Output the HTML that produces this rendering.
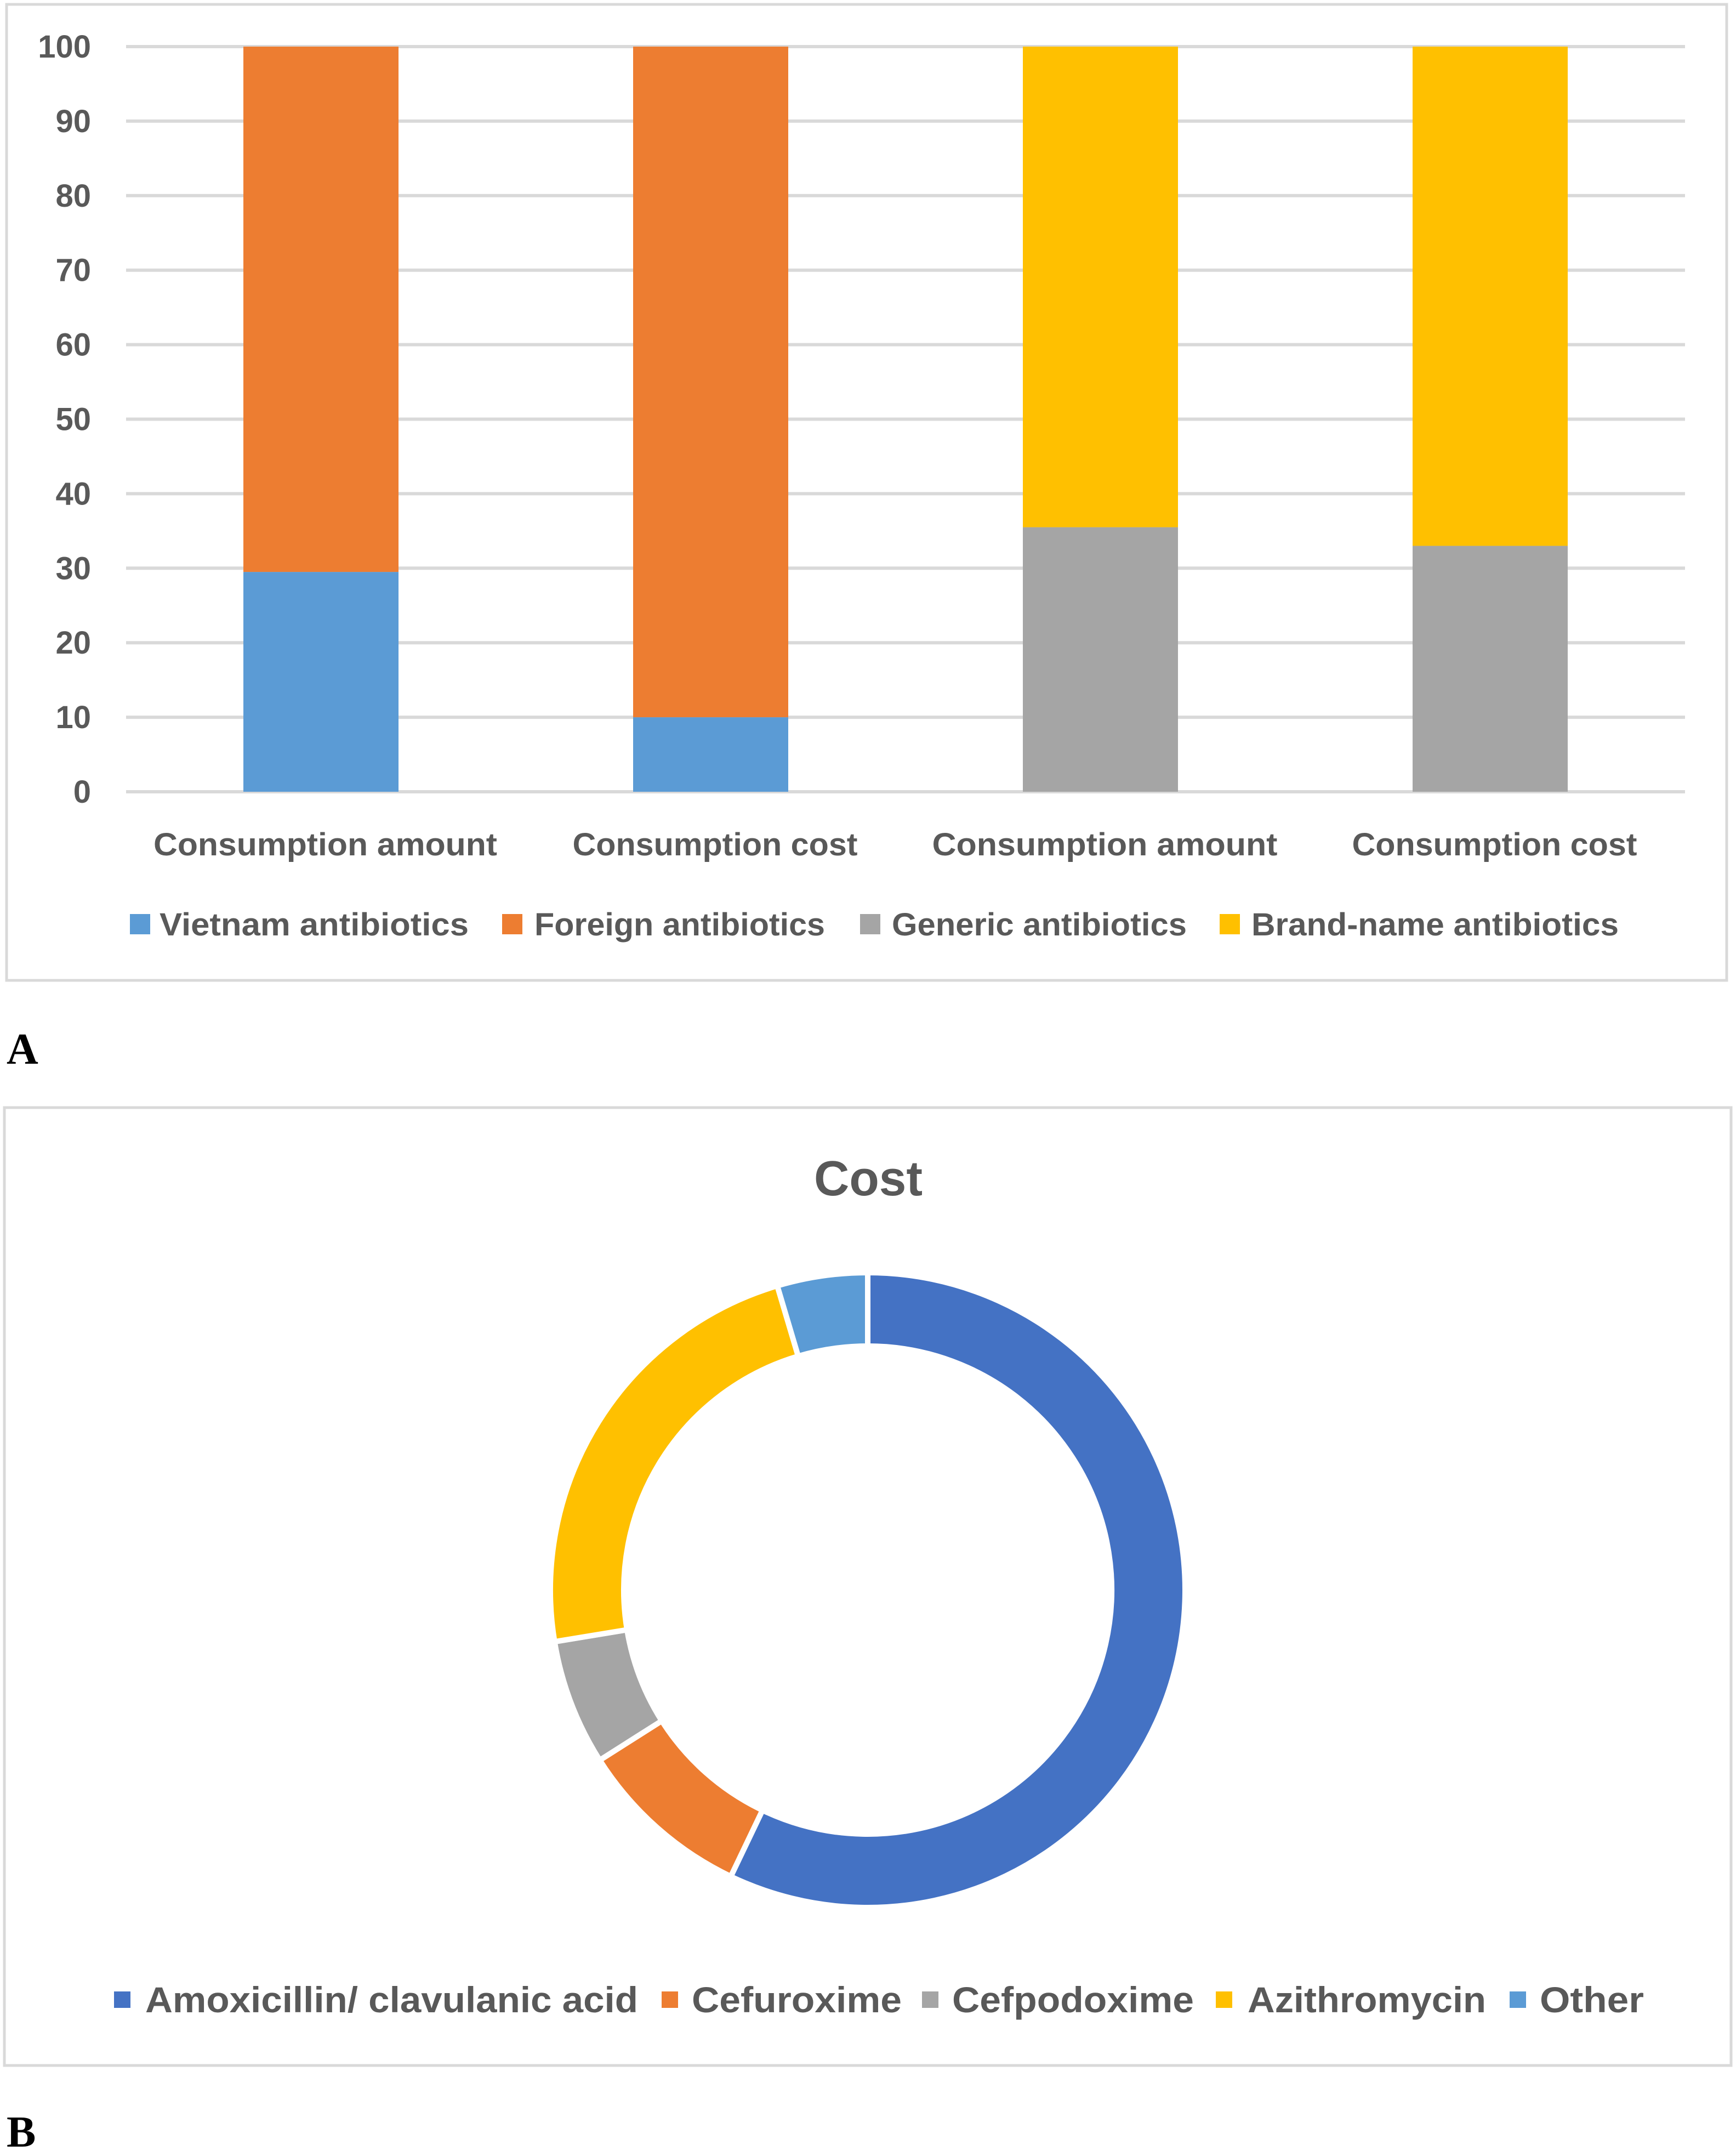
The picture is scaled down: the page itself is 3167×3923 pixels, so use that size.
<!DOCTYPE html>
<html><head><meta charset="utf-8"><style>
html,body{margin:0;padding:0;background:#fff;}
svg{display:block;font-family:"Liberation Sans",sans-serif;}
</style></head><body>
<svg id="root" width="3167" height="3923" viewBox="0 0 3167 3923" xmlns="http://www.w3.org/2000/svg">
<rect x="12" y="8" width="3138" height="1780" fill="#fff" stroke="#d9d9d9" stroke-width="5"/>
<g id="gridA"></g>
<g id="barsA"></g>
<g id="ytA"></g>
<g id="catA"></g>
<g font-size="58" font-weight="bold" fill="#595959">
 <rect x="237" y="1667" width="37" height="37" fill="#5b9bd5"/>
 <text x="291" y="1706" textLength="564" lengthAdjust="spacingAndGlyphs">Vietnam antibiotics</text>
 <rect x="916" y="1667" width="37" height="37" fill="#ed7d31"/>
 <text x="975" y="1706" textLength="530" lengthAdjust="spacingAndGlyphs">Foreign antibiotics</text>
 <rect x="1569" y="1667" width="37" height="37" fill="#a5a5a5"/>
 <text x="1627" y="1706" textLength="538" lengthAdjust="spacingAndGlyphs">Generic antibiotics</text>
 <rect x="2225" y="1667" width="37" height="37" fill="#ffc000"/>
 <text x="2283" y="1706" textLength="670" lengthAdjust="spacingAndGlyphs">Brand-name antibiotics</text>
</g>
<text x="12" y="1940" font-family="Liberation Serif,serif" font-weight="bold" font-size="80" fill="#000">A</text>

<rect x="8" y="2020" width="3150" height="1747" fill="#fff" stroke="#d9d9d9" stroke-width="5"/>
<text x="1584" y="2180" text-anchor="middle" font-size="90" font-weight="bold" fill="#595959" textLength="198" lengthAdjust="spacingAndGlyphs">Cost</text>
<g id="donut"></g>
<g font-size="66" font-weight="bold" fill="#595959">
 <rect x="208" y="3632" width="30" height="30" fill="#4472c4"/>
 <text x="265" y="3670" textLength="899" lengthAdjust="spacingAndGlyphs">Amoxicillin/ clavulanic acid</text>
 <rect x="1207" y="3632" width="30" height="30" fill="#ed7d31"/>
 <text x="1262" y="3670" textLength="383" lengthAdjust="spacingAndGlyphs">Cefuroxime</text>
 <rect x="1682" y="3632" width="30" height="30" fill="#a5a5a5"/>
 <text x="1737" y="3670" textLength="441" lengthAdjust="spacingAndGlyphs">Cefpodoxime</text>
 <rect x="2218" y="3632" width="30" height="30" fill="#ffc000"/>
 <text x="2276" y="3670" textLength="435" lengthAdjust="spacingAndGlyphs">Azithromycin</text>
 <rect x="2754" y="3632" width="30" height="30" fill="#5b9bd5"/>
 <text x="2809" y="3670" textLength="190" lengthAdjust="spacingAndGlyphs">Other</text>
</g>
<text x="12" y="3915" font-family="Liberation Serif,serif" font-weight="bold" font-size="80" fill="#000">B</text>
</svg>
<script>
const categories = ["Consumption amount","Consumption cost","Consumption amount","Consumption cost"];
const lowerValues = [29.5, 10, 35.5, 33];
const upperValues = [70.5, 90, 64.5, 67];
const lowerColors = ["#5b9bd5","#5b9bd5","#a5a5a5","#a5a5a5"];
const upperColors = ["#ed7d31","#ed7d31","#ffc000","#ffc000"];
const yTicks = [0,10,20,30,40,50,60,70,80,90,100];
const catLabelWidths = [627, 520, 630, 520];
const sliceLabels = ["Amoxicillin/ clavulanic acid","Cefuroxime","Cefpodoxime","Azithromycin","Other"];
const sliceValues = [57.1, 8.9, 6.4, 23.0, 4.6];
const sliceColors = ["#4472c4","#ed7d31","#a5a5a5","#ffc000","#5b9bd5"];

const NS="http://www.w3.org/2000/svg";
function mk(tag, attrs, parent){const e=document.createElementNS(NS,tag);for(const k in attrs)e.setAttribute(k,attrs[k]);parent.appendChild(e);return e;}
const y0=1444, y1=85, xL=230, xR=3074;
const yS=v=>y0-(y0-y1)*v/100;
const band=(xR-xL)/categories.length, bw=283;
const xC=i=>xL+band*(i+0.5);

const grid=document.getElementById('gridA'), yt=document.getElementById('ytA');
yTicks.forEach(t=>{
  const l=mk('line',{x1:xL,x2:xR,y1:yS(t),y2:yS(t),stroke:'#d9d9d9','stroke-width':6},grid);
  
  
  const tx=mk('text',{x:166,y:yS(t)+20,'text-anchor':'end','font-size':58,'font-weight':'bold',fill:'#595959'},yt);
  tx.textContent=t;
  
  
});
const bars=document.getElementById('barsA'), cat=document.getElementById('catA');
categories.forEach((c,i)=>{
  const x=xC(i)-bw/2;
  const b1=mk('rect',{x:x,y:yS(lowerValues[i]),width:bw,height:yS(0)-yS(lowerValues[i]),fill:lowerColors[i]},bars);
  
  
  const top=lowerValues[i]+upperValues[i];
  const b2=mk('rect',{x:x,y:yS(top),width:bw,height:yS(lowerValues[i])-yS(top),fill:upperColors[i]},bars);
  
  
  const t=mk('text',{x:xC(i)+8,y:1560,'text-anchor':'middle','font-size':58,'font-weight':'bold',fill:'#595959',textLength:catLabelWidths[i],lengthAdjust:'spacingAndGlyphs'},cat);
  t.textContent=c;
  
  
});

const cx=1583, cy=2900, R=579, r=445;
const donut=document.getElementById('donut');
const total=sliceValues.reduce((a,b)=>a+b,0);
let acc=0;
const pt=(rad,a)=>[cx+rad*Math.sin(a), cy-rad*Math.cos(a)];
sliceValues.forEach((v,i)=>{
  const a0=acc/total*2*Math.PI; acc+=v; const a1=acc/total*2*Math.PI;
  const lg=(a1-a0)>Math.PI?1:0;
  const p1=pt(R,a0),p2=pt(R,a1),p3=pt(r,a1),p4=pt(r,a0);
  const d=`M${p1[0]},${p1[1]} A${R},${R} 0 ${lg} 1 ${p2[0]},${p2[1]} L${p3[0]},${p3[1]} A${r},${r} 0 ${lg} 0 ${p4[0]},${p4[1]} Z`;
  const p=mk('path',{d:d,fill:sliceColors[i],stroke:'#fff','stroke-width':10},donut);
  
  
});
</script>
</body></html>
